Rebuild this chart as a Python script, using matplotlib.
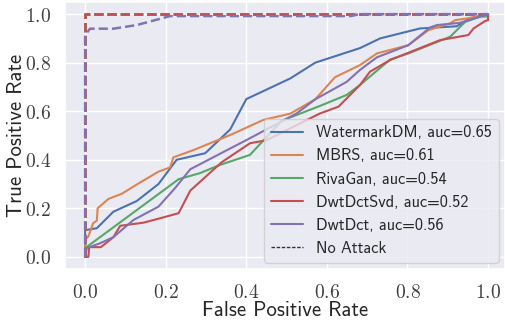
import numpy as np
import seaborn as sns
from matplotlib import pyplot as plt
from matplotlib.lines import Line2D
from matplotlib.ticker import FuncFormatter

# roc curves under attack
names = ['WatermarkDM', 'MBRS', 'RivaGan', 'DwtDctSvd', 'DwtDct']
aucs = [0.65, 0.61, 0.54, 0.52, 0.56]

fpr_wdm = [0, 0, 0.029, 0.07, 0.128, 0.182, 0.227, 0.298, 0.36, 0.40, 0.509, 0.571,
           0.682, 0.732, 0.831, 0.922, 0.955, 1.0]
tpr_wdm = [0, 0.11, 0.118, 0.186, 0.23, 0.30, 0.40, 0.427, 0.525, 0.65, 0.735, 0.80,
           0.86, 0.90, 0.941, 0.95, 0.982, 1.0]

fpr_mbrs = [0, 0, 0.008, 0.02, 0.029, 0.031, 0.058, 0.091, 0.136, 0.182, 0.211, 0.219,
            0.269, 0.36, 0.442, 0.509, 0.571, 0.62, 0.682, 0.724, 0.802, 0.852, 0.906,
            0.918, 0.947, 1.0]
tpr_mbrs = [0, 0.07, 0.084, 0.139, 0.149, 0.20, 0.239, 0.26, 0.306, 0.351, 0.369, 0.41,
            0.44, 0.502, 0.564, 0.59, 0.649, 0.74, 0.79, 0.838, 0.872, 0.934, 0.962,
            0.975, 0.982, 1.0]

fpr_riva = [0, 0, 0.232, 0.285, 0.335, 0.409, 0.488, 0.583, 0.649, 0.682, 0.757, 0.802,
            0.906, 0.943, 0.98, 1.0, 1.0]
tpr_riva = [0, 0.036, 0.32, 0.345, 0.379, 0.42, 0.561, 0.622, 0.667, 0.708, 0.813, 0.838,
            0.907, 0.968, 0.99, 0.99, 1.0]

fpr_svd = [0, 0.008, 0.01, 0.039, 0.07, 0.087, 0.145, 0.186, 0.232, 0.261, 0.339, 0.409,
           0.451, 0.583, 0.629, 0.682, 0.707, 0.757, 0.881, 0.951, 0.964, 0.993, 1.0, 1.0]
tpr_svd = [0, 0, 0.04, 0.04, 0.081, 0.128, 0.141, 0.159, 0.18, 0.273, 0.39, 0.468,
           0.481, 0.591, 0.619, 0.708, 0.763, 0.811, 0.893, 0.914, 0.941, 0.972, 0.975, 1.0]

fpr_dct = [0, 0.004, 0.037, 0.07, 0.12, 0.182, 0.223, 0.261, 0.335, 0.40, 0.525, 0.571,
           0.649, 0.682, 0.724, 0.802, 0.856, 0.873, 0.93, 0.98, 1.0]
tpr_dct = [0, 0.036, 0.056, 0.081, 0.152, 0.207, 0.283, 0.361, 0.425, 0.481, 0.591, 0.649,
           0.721, 0.77, 0.822, 0.872, 0.945, 0.955, 0.964, 0.989, 1.0]

# roc curves without attack
fpr_clean = [0, 0, 1.0]
tpr_clean = [0, 1.0, 1.0]
fpr_clean_dct = [0, 0, 0.012, 0.07, 0.128, 0.211, 0.335, 0.66, 0.68, 1.0]
tpr_clean_dct = [0, 0.914, 0.94, 0.94, 0.955, 0.992, 0.992, 0.992, 1.0, 1.0]

attacked = [(fpr_wdm, tpr_wdm), (fpr_mbrs, tpr_mbrs), (fpr_riva, tpr_riva),
            (fpr_svd, tpr_svd), (fpr_dct, tpr_dct)]
clean = [(fpr_clean, tpr_clean)] * 4 + [(fpr_clean_dct, tpr_clean_dct)]

sns.set_theme(style='darkgrid')
plt.rcParams['mathtext.fontset'] = 'cm'
colors = sns.color_palette('deep')

fig = plt.figure(figsize=(5.05, 3.22), dpi=100)
ax = fig.add_axes([65 / 505, 53 / 322, 440 / 505, 267 / 322])

for i, (fpr, tpr) in enumerate(attacked):
    ax.plot(fpr, tpr, color=colors[i], lw=1.5, label=f'{names[i]}, auc={aucs[i]:.2f}')
for i, (fpr, tpr) in enumerate(clean):
    ax.plot(fpr, tpr, color=colors[i], lw=1.8, ls='--')

ax.set_xlim(-0.05, 1.042)
ax.set_ylim(-0.05, 1.05)
ax.set_xticks(np.arange(0, 1.01, 0.2))
ax.set_yticks(np.arange(0, 1.01, 0.2))
fmt = FuncFormatter(lambda v, p: f'${v:.1f}$')
ax.xaxis.set_major_formatter(fmt)
ax.yaxis.set_major_formatter(fmt)
ax.tick_params(labelsize=14, colors='.25', pad=4)

ax.set_xlabel('False Positive Rate', family='cmss10', fontsize=15, color='.15', labelpad=-1)
ax.set_ylabel('True Positive Rate', family='cmss10', fontsize=15, color='.15', labelpad=-1)

handles, labels = ax.get_legend_handles_labels()
handles.append(Line2D([], [], color='.2', lw=1, ls=(0, (2.5, 1.2))))
labels.append('No Attack')
ax.legend(handles, labels, loc='lower right', prop={'family': 'cmss10', 'size': 11.7},
          borderaxespad=0.4)

fig.savefig('out.png', dpi=100)
